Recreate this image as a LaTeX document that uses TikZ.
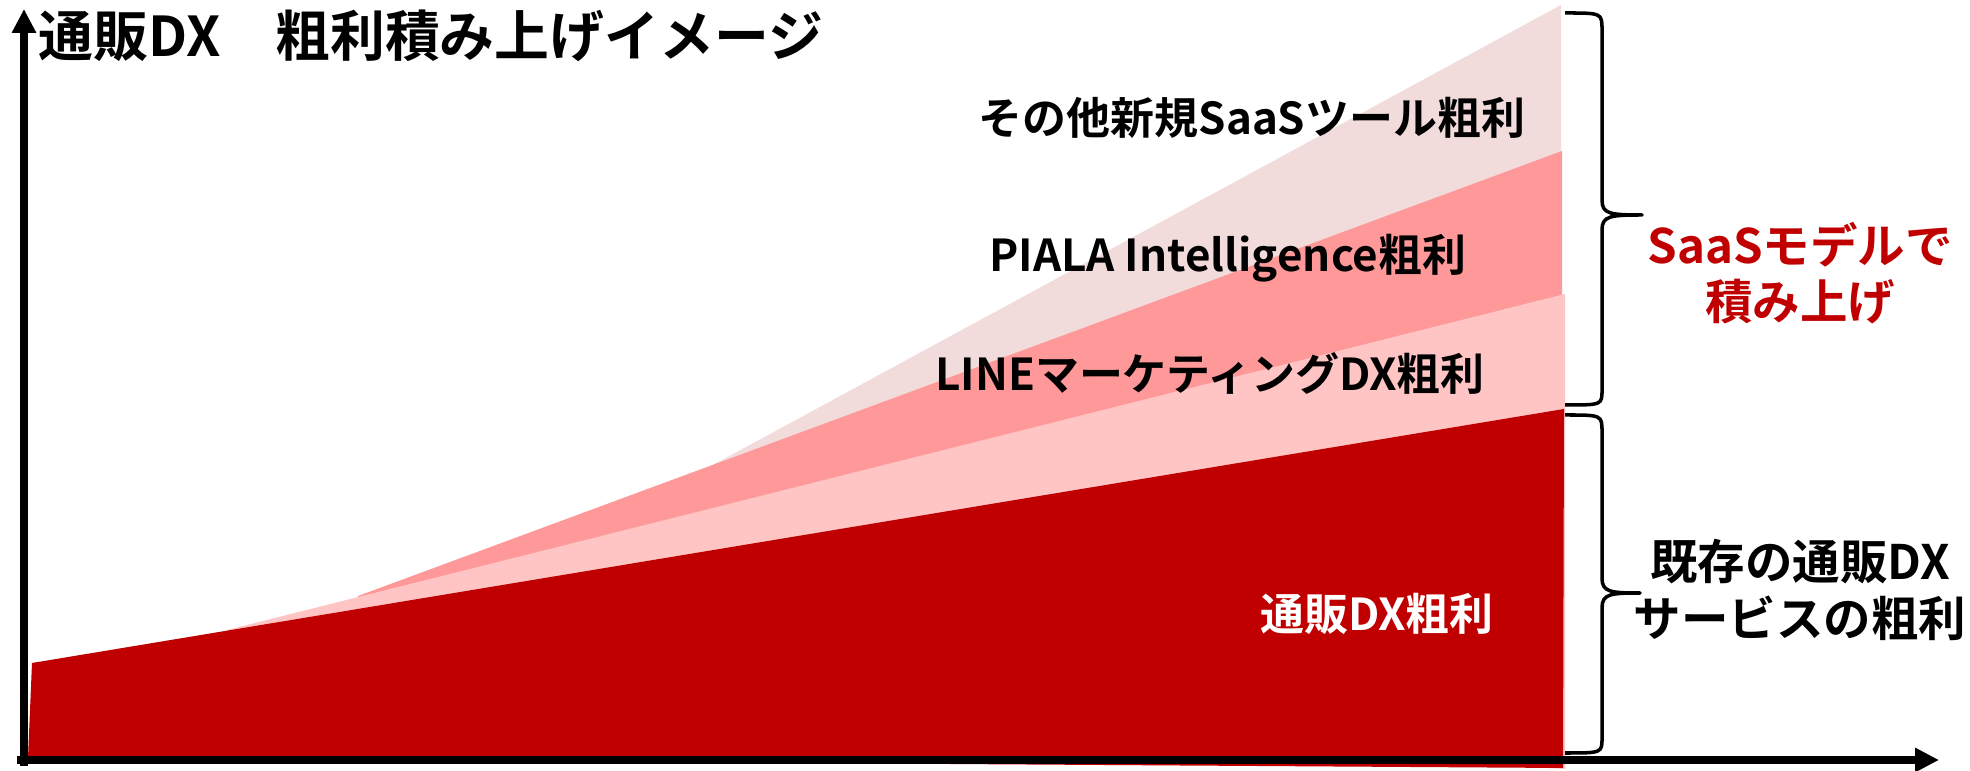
\documentclass[tikz,border=0pt]{standalone}
\usepackage{fontspec}
\setmainfont{Noto Sans CJK JP Bold}
\usetikzlibrary{arrows.meta}

\definecolor{dxred}{HTML}{C00000}
\definecolor{linepink}{HTML}{FFC5C5}
\definecolor{pialapink}{HTML}{FF9999}
\definecolor{saaspink}{HTML}{F2DCDB}

\tikzset{
  axis/.style={line width=2.3pt, -{Triangle[length=0.24cm,width=0.23cm]}},
  brace/.style={line width=1pt, line join=round},
  layer/.style={inner sep=0pt, font=\fontsize{12.5}{15}\selectfont},
  side/.style={inner sep=0pt, align=center, font=\fontsize{13.5}{16}\selectfont},
}

\begin{document}
\begin{tikzpicture}[x=0.01cm, y=-0.01cm]
    \useasboundingbox (0,0) rectangle (1970,771);

    % --- Strati del grafico (dal fondo) ---
    \coordinate (s0) at (700,472);
    \coordinate (s1) at (1561,5);
    \fill[saaspink] (s0) -- (s1) -- (1561,300) -- (700,520) -- cycle;

    \coordinate (p0) at (358,596);
    \coordinate (p1) at (1562,151);
    \fill[pialapink] (p0) -- (p1) -- (1562,420) -- (358,640) -- cycle;

    \coordinate (l0) at (227,630);
    \coordinate (l1) at (1565,294);
    \fill[linepink] (l0) -- (l1) -- (1565,769) -- (227,700) -- cycle;

    \coordinate (d0) at (28,758);
    \coordinate (d1) at (32,663);
    \coordinate (d2) at (1564,409);
    \coordinate (d3) at (1563,768);
    \fill[dxred] (d0) -- (d1) -- (d2) -- (d3) -- cycle;

    % --- Assi ---
    \coordinate (origin) at (24,766);
    \coordinate (ytip) at (24,9);
    \coordinate (xstart) at (17,760);
    \coordinate (xtip) at (1939,760);
    \draw[axis] (origin) -- (ytip);
    \draw[axis] (xstart) -- (xtip);

    % --- Titolo ---
    \node[inner sep=0pt, anchor=west, font=\fontsize{15.6}{18}\selectfont] (title) at (38,36) {通販DX　粗利積み上げイメージ};

    % --- Etichette degli strati ---
    \node[layer] (saas) at (1252,118) {その他新規SaaSツール粗利};
    \node[layer] (piala) at (1228,258) {PIALA Intelligence粗利};
    \node[layer] (line) at (1210,373) {LINEマーケティングDX粗利};
    \node[layer, text=white] (dx) at (1377,614) {通販DX粗利};

    % --- Parentesi graffe ---
    \draw[brace] (1565,13) .. controls (1602,13) .. (1602,30) -- (1602,200)
        .. controls (1602,214) and (1610,215) .. (1642,215)
        .. controls (1610,215) and (1602,216) .. (1602,230) -- (1602,390)
        .. controls (1602,405) .. (1565,405);
    \draw[brace] (1565,415) .. controls (1602,415) .. (1602,432) -- (1602,578)
        .. controls (1602,592) and (1610,593) .. (1640,593)
        .. controls (1610,593) and (1602,594) .. (1602,608) -- (1602,738)
        .. controls (1602,753) .. (1565,753);

    % --- Testi a destra ---
    \node[side, text=dxred] (model) at (1800,273) {SaaSモデルで\\積み上げ};
    \node[side] (existing) at (1800,590) {既存の通販DX\\サービスの粗利};
\end{tikzpicture}
\end{document}
